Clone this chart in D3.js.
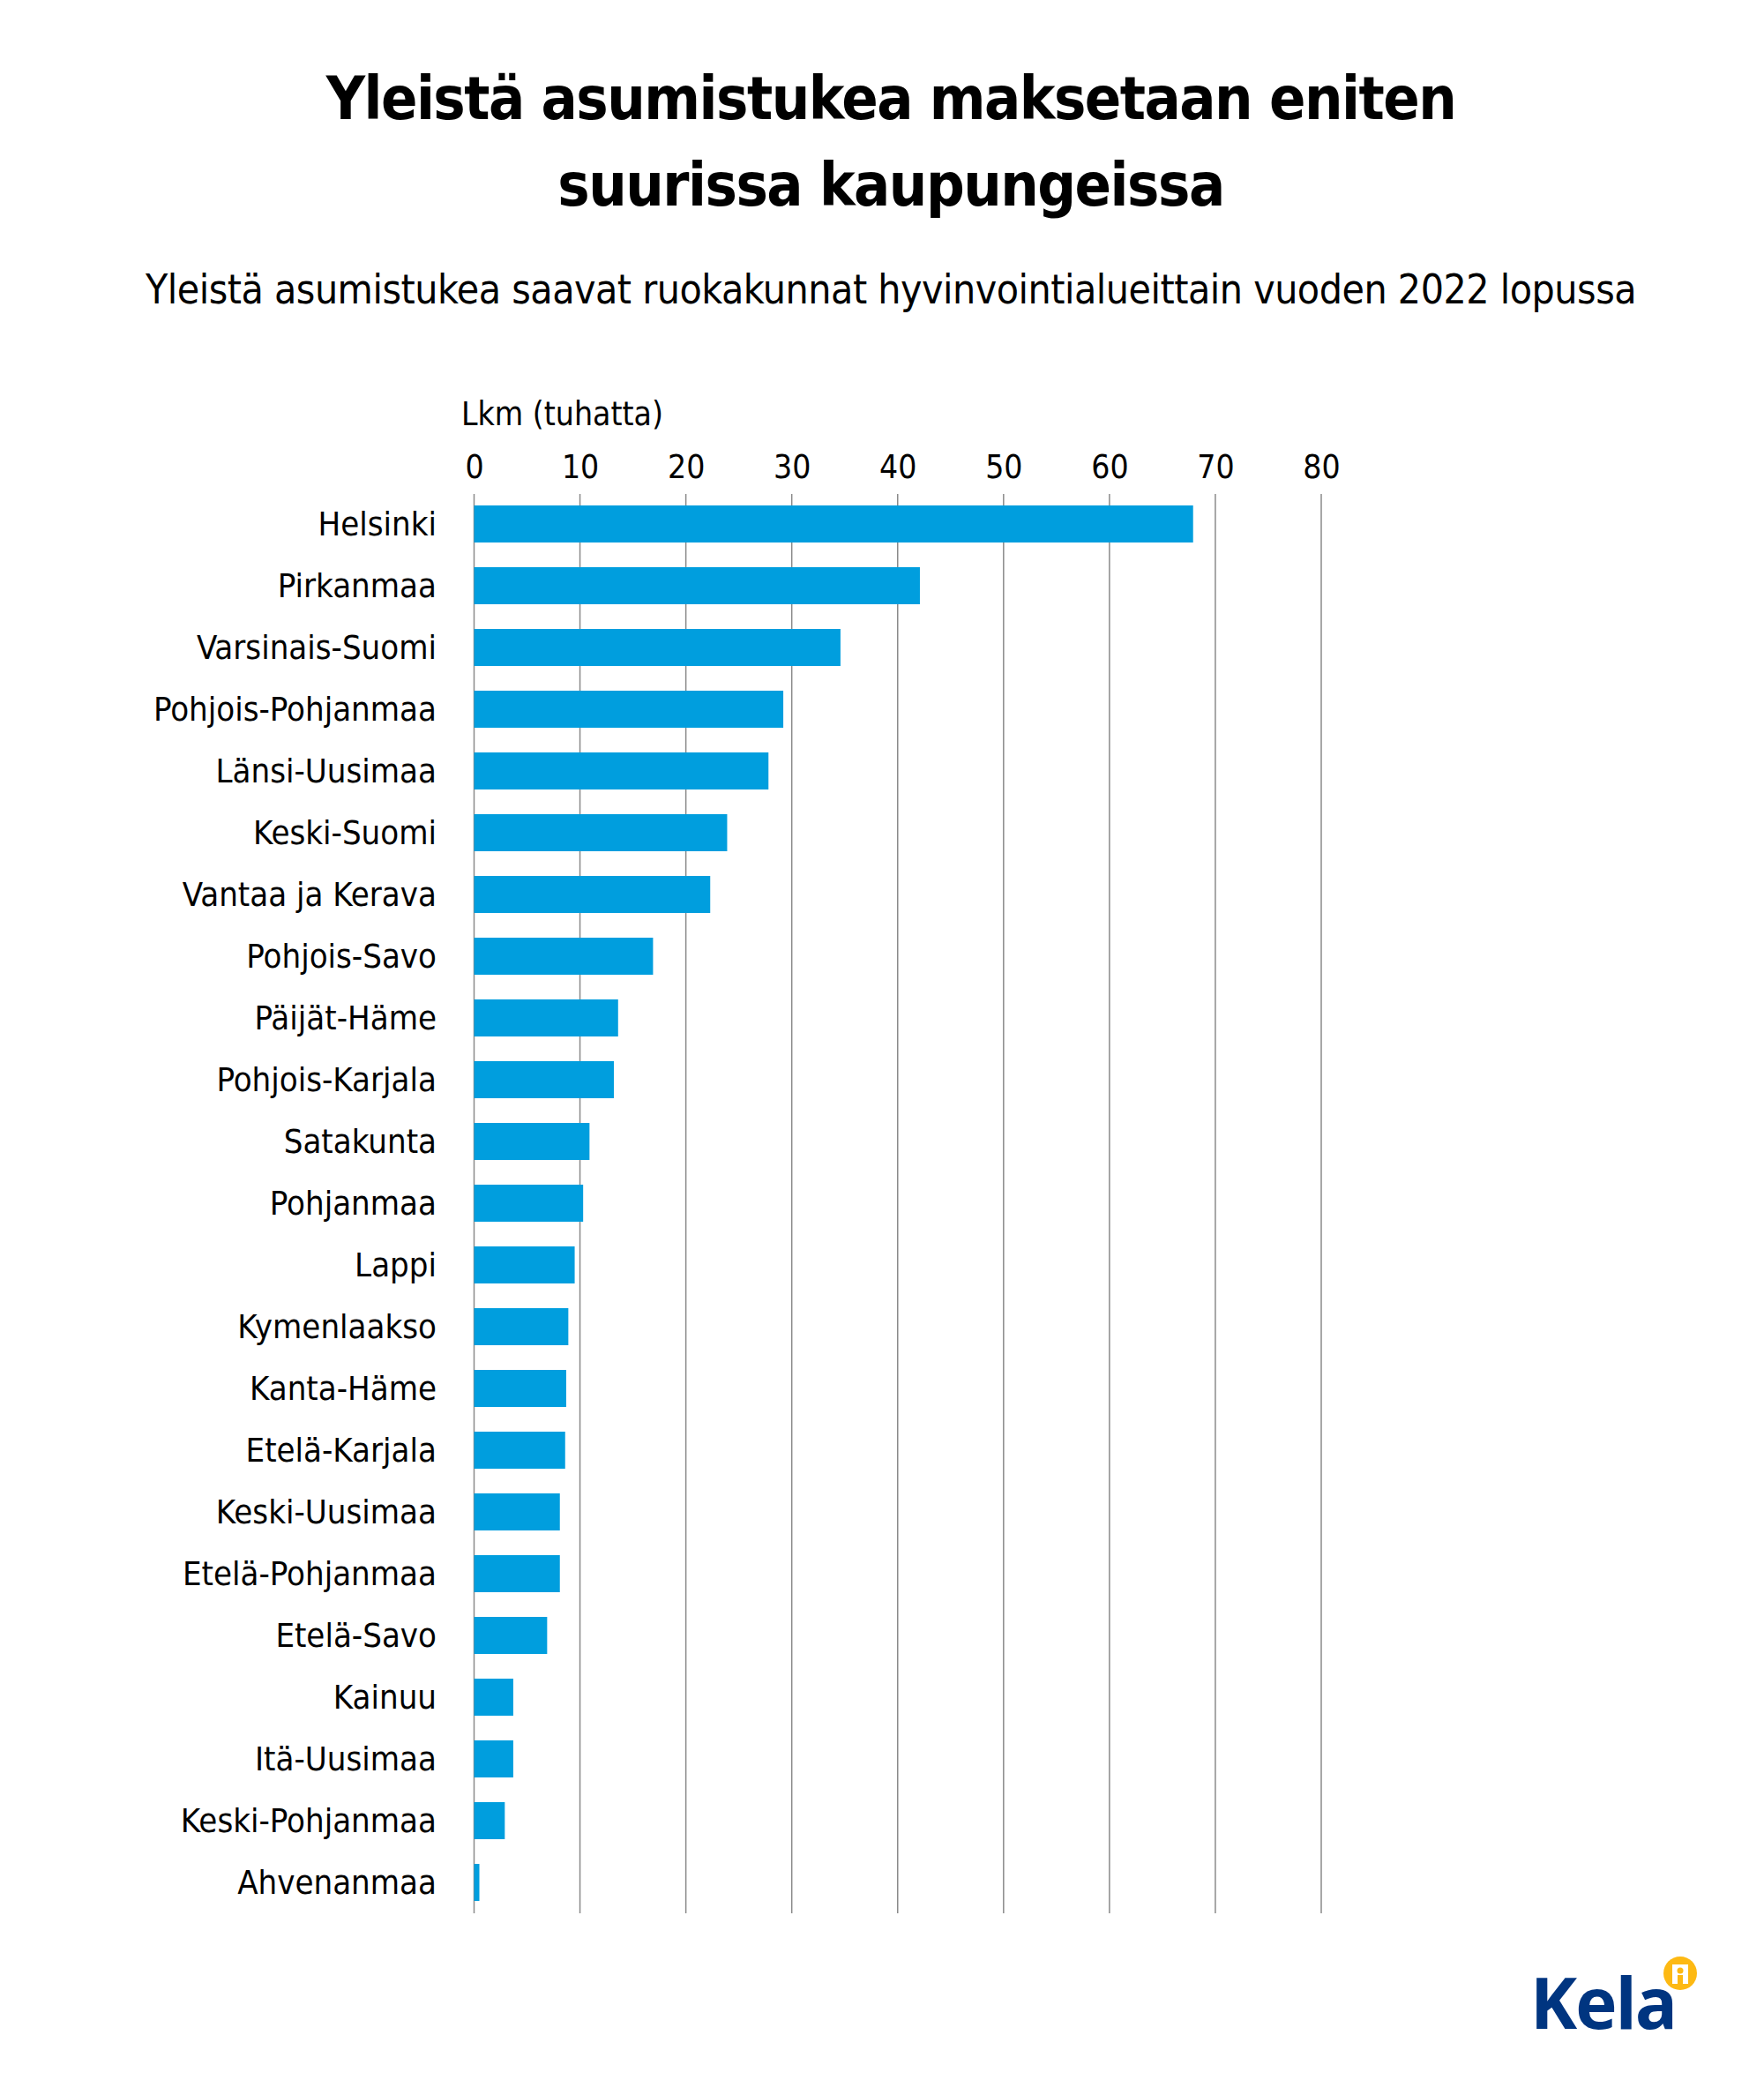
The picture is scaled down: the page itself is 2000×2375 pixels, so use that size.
<!DOCTYPE html>
<html><head><meta charset="utf-8">
<script src="https://cdn.jsdelivr.net/npm/d3@7"></script>
<style>body{margin:0;background:#fff}</style>
</head><body><div id="chart"></div>
<script>
var regions = ["Helsinki","Pirkanmaa","Varsinais-Suomi","Pohjois-Pohjanmaa","Länsi-Uusimaa","Keski-Suomi","Vantaa ja Kerava","Pohjois-Savo","Päijät-Häme","Pohjois-Karjala","Satakunta","Pohjanmaa","Lappi","Kymenlaakso","Kanta-Häme","Etelä-Karjala","Keski-Uusimaa","Etelä-Pohjanmaa","Etelä-Savo","Kainuu","Itä-Uusimaa","Keski-Pohjanmaa","Ahvenanmaa"];
var values = [67.9,42.1,34.6,29.2,27.8,23.9,22.3,16.9,13.6,13.2,10.9,10.3,9.5,8.9,8.7,8.6,8.1,8.1,6.9,3.7,3.7,2.9,0.5];
var ticks = [0,10,20,30,40,50,60,70,80];

var W = 2000, H = 2375;
var font = "'Liberation Sans Narrow', 'DejaVu Sans Condensed', sans-serif";
var svg = d3.select("#chart").append("svg").attr("width", W).attr("height", H)
    .style("font-family", font);

// titles
svg.append("text").attr("x", 1010).attr("y", 135).attr("text-anchor", "middle")
    .attr("font-size", 68).attr("font-weight", "bold").attr("letter-spacing", -1.5)
    .text("Yleistä asumistukea maksetaan eniten");
svg.append("text").attr("x", 1010).attr("y", 233).attr("text-anchor", "middle")
    .attr("font-size", 68).attr("font-weight", "bold").attr("letter-spacing", -1.5)
    .text("suurissa kaupungeissa");
svg.append("text").attr("x", 1010).attr("y", 344).attr("text-anchor", "middle")
    .attr("font-size", 46).attr("letter-spacing", -0.5)
    .text("Yleistä asumistukea saavat ruokakunnat hyvinvointialueittain vuoden 2022 lopussa");

var x = d3.scaleLinear().domain([0, 80]).range([537.5, 1498]);
var y = d3.scaleBand().domain(regions).range([559, 2169]).paddingInner(0.4).paddingOuter(0.2);

// grid
svg.append("g").selectAll("line").data(ticks).enter().append("line")
    .attr("x1", d => x(d)).attr("x2", d => x(d))
    .attr("y1", 560).attr("y2", 2169)
    .attr("stroke", "#8a8a8a").attr("stroke-width", 1.5);

// top axis
var topAxis = d3.axisTop(x).tickValues(ticks).tickSize(0).tickPadding(0);
var ax = svg.append("g").attr("transform", "translate(0,542)").call(topAxis);
ax.select(".domain").remove();
ax.selectAll("text").attr("font-size", 37).attr("font-family", font).attr("fill", "#000");

svg.append("text").attr("x", 523).attr("y", 482).attr("font-size", 37).text("Lkm (tuhatta)");

// bars
svg.append("g").selectAll("rect").data(values).enter().append("rect")
    .attr("x", x(0))
    .attr("y", (d, i) => y(regions[i]))
    .attr("width", d => x(d) - x(0))
    .attr("height", y.bandwidth())
    .attr("fill", "#009ede");

// labels
svg.append("g").selectAll("text").data(regions).enter().append("text")
    .attr("x", 495).attr("y", d => y(d) + y.bandwidth() / 2)
    .attr("dy", "0.35em").attr("text-anchor", "end").attr("font-size", 38)
    .text(d => d);

// logo
svg.append("text").attr("x", 1735).attr("y", 2300).attr("font-size", 80)
    .attr("font-weight", "bold").attr("fill", "#003580").attr("letter-spacing", -2)
    .attr("font-family", "'Open Sans', sans-serif").text("Kela");
svg.append("circle").attr("cx", 1905).attr("cy", 2237).attr("r", 19).attr("fill", "#fdb913");
svg.append("rect").attr("x", 1896).attr("y", 2227).attr("width", 18).attr("height", 22).attr("fill", "#fff");
svg.append("circle").attr("cx", 1905).attr("cy", 2234).attr("r", 3.5).attr("fill", "#fdb913");
svg.append("rect").attr("x", 1902).attr("y", 2239).attr("width", 6).attr("height", 10).attr("fill", "#fdb913");
</script></body></html>
